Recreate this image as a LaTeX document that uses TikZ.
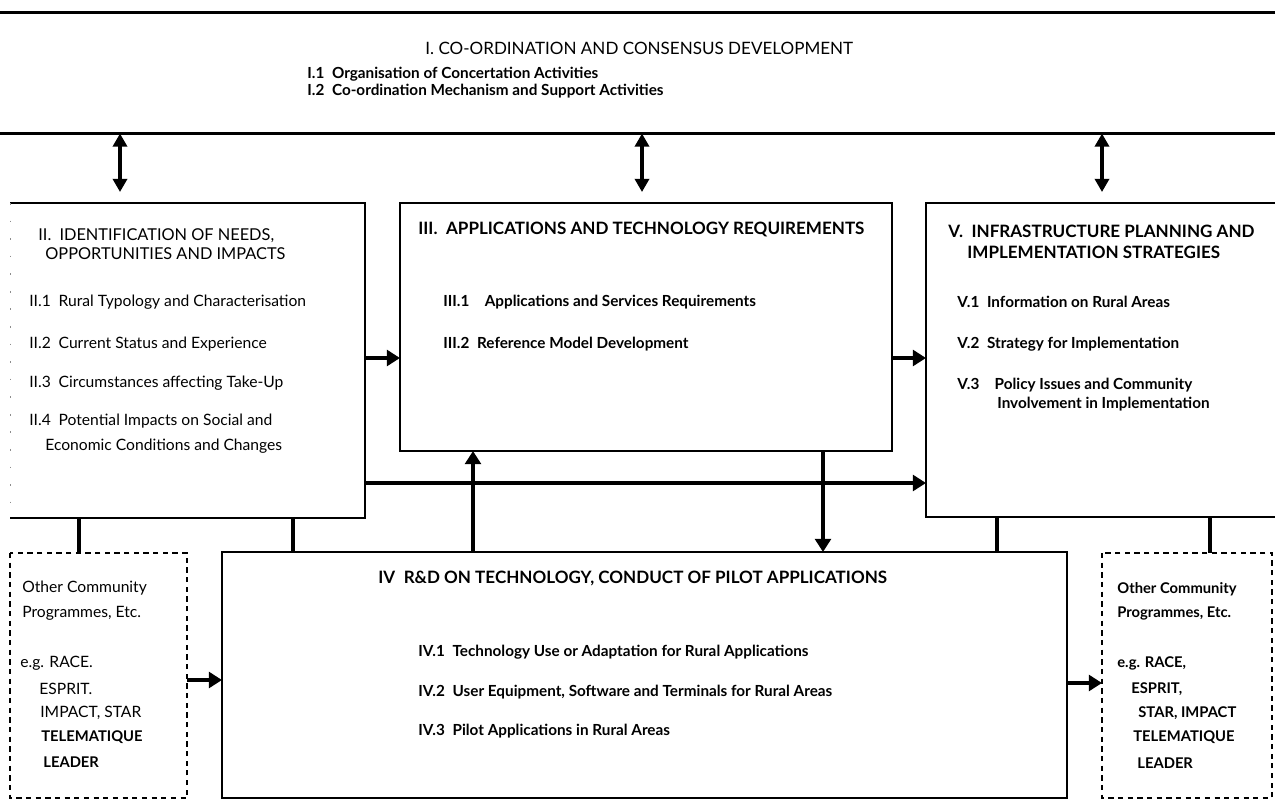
\documentclass[tikz,border=0pt]{standalone}
\usepackage{fontspec}
\setmainfont{Lato}
\usepackage{tikz}
\usetikzlibrary{positioning}
\usetikzlibrary{arrows.meta}
\tikzstyle{plan} = [x = 0.02cm, y = -0.02cm]
\tikzstyle{boxArea} = [inner sep = 0pt, outer sep = 0pt]
\tikzstyle{boxLine} = [color=black, line width = 1.2pt]
\tikzstyle{dashLine} = [color=black, line width = 1pt, dash pattern = on 3pt off 2.5pt]
\tikzstyle{faintSide} = [color=black!45, line width = 0.5pt, dash pattern = on 1pt off 9pt]
\tikzstyle{flowArrow} = [line width = 2.7pt, -{Triangle[length = 7.5pt, width = 9pt]}]
\tikzstyle{twoWay} = [line width = 2.4pt, {Triangle[length = 7.5pt, width = 8pt]}-{Triangle[length = 7.5pt, width = 8pt]}]
\tikzstyle{linkLine} = [line width = 1.8pt]
\tikzstyle{headText} = [anchor = west, inner sep = 0pt, font = \fontsize{9.7}{11}\selectfont]
\tikzstyle{headSmall} = [headText, font = \fontsize{9.3}{10}\selectfont]
\tikzstyle{headBold} = [headText, font = \bfseries\fontsize{9.7}{11}\selectfont]
\tikzstyle{itemText} = [anchor = west, inner sep = 0pt, font = \fontsize{8.9}{10}\selectfont]
\tikzstyle{itemBold} = [itemText, font = \bfseries\fontsize{8.7}{10}\selectfont]
\tikzstyle{sideBold} = [itemText, font = \bfseries\fontsize{8.4}{10}\selectfont]
\newcommand{\boxNode}[5]{\node [boxArea, minimum width = #4 * 0.02cm, minimum height = #5 * 0.02cm] (#1) at (#2, #3) {};}
\newcommand{\planText}[5]{\node [#5] (#1) at (#2, #3) {#4};}

\begin{document}
\begin{tikzpicture}[plan]
  \useasboundingbox (0,0) rectangle (1275,801);
  \boxNode{band}{637.5}{73}{1275}{121}
  \boxNode{boxII}{187.5}{360.5}{355}{315}
  \boxNode{boxIII}{646}{327}{492}{248}
  \boxNode{boxV}{1108}{360}{364}{314}
  \boxNode{boxIV}{644.5}{675}{845}{246}
  \boxNode{otherLeft}{98.5}{675.5}{177}{245}
  \boxNode{otherRight}{1187}{675.5}{170}{245}

  \draw [boxLine] (band.north west) -- (band.north east);
  \draw [boxLine] (band.south west) -- (band.south east);
  \draw [boxLine] (boxII.north west) -- (boxII.north east) -- (boxII.south east) -- (boxII.south west);
  \draw [faintSide] (boxII.north west) -- (boxII.south west);
  \draw [boxLine] (boxIII.north west) rectangle (boxIII.south east);
  \draw [boxLine] (boxV.north east) -- (boxV.north west) -- (boxV.south west) -- (boxV.south east);
  \draw [boxLine] (boxIV.north west) rectangle (boxIV.south east);
  \draw [dashLine] (otherLeft.north west) rectangle (otherLeft.south east);
  \draw [dashLine] (otherRight.north west) rectangle (otherRight.south east);

  \planText{bandTitle}{425}{48}{I. CO-ORDINATION AND CONSENSUS DEVELOPMENT}{headText}
  \planText{bandOne}{307}{74}{I.1\enspace Organisation of Concertation Activities}{itemBold}
  \planText{bandTwo}{307}{91}{I.2\enspace Co-ordination Mechanism and Support Activities}{itemBold}

  \planText{needsTitle}{38}{236}{II.\enspace IDENTIFICATION OF NEEDS,}{headSmall}
  \planText{needsTitleTwo}{45}{254}{OPPORTUNITIES AND IMPACTS}{headSmall}
  \planText{needsOne}{29}{302}{II.1\enspace Rural Typology and Characterisation}{itemText}
  \planText{needsTwo}{29}{344}{II.2\enspace Current Status and Experience}{itemText}
  \planText{needsThree}{29}{383}{II.3\enspace Circumstances affecting Take-Up}{itemText}
  \planText{needsFour}{29}{421}{II.4\enspace Potential Impacts on Social and}{itemText}
  \planText{needsFourTwo}{45}{446}{Economic Conditions and Changes}{itemText}

  \planText{appsTitle}{418}{229}{III.\enspace APPLICATIONS AND TECHNOLOGY REQUIREMENTS}{headBold}
  \planText{appsOne}{443}{302}{III.1\enspace\enspace Applications and Services Requirements}{itemBold}
  \planText{appsTwo}{443}{344}{III.2\enspace Reference Model Development}{itemBold}

  \planText{infraTitle}{948}{231}{V.\enspace INFRASTRUCTURE PLANNING AND}{headBold}
  \planText{infraTitleTwo}{967}{252}{IMPLEMENTATION STRATEGIES}{headBold}
  \planText{infraOne}{957}{302}{V.1\enspace Information on Rural Areas}{itemBold}
  \planText{infraTwo}{957}{344}{V.2\enspace Strategy for Implementation}{itemBold}
  \planText{infraThree}{957}{385}{V.3\enspace\enspace Policy Issues and Community}{itemBold}
  \planText{infraThreeTwo}{997}{404}{Involvement in Implementation}{itemBold}

  \planText{pilotTitle}{378}{578}{IV\enspace R\&D ON TECHNOLOGY, CONDUCT OF PILOT APPLICATIONS}{headBold}
  \planText{pilotOne}{418}{652}{IV.1\enspace Technology Use or Adaptation for Rural Applications}{itemBold}
  \planText{pilotTwo}{418}{692}{IV.2\enspace User Equipment, Software and Terminals for Rural Areas}{itemBold}
  \planText{pilotThree}{418}{731}{IV.3\enspace Pilot Applications in Rural Areas}{itemBold}

  \planText{leftOne}{22}{588}{Other Community}{itemText}
  \planText{leftTwo}{22}{613}{Programmes, Etc.}{itemText}
  \planText{leftThree}{20}{663}{e.g. RACE.}{itemText}
  \planText{leftFour}{39}{689}{ESPRIT.}{itemText}
  \planText{leftFive}{40}{713}{IMPACT, STAR}{itemText}
  \planText{leftSix}{41}{737}{TELEMATIQUE}{sideBold}
  \planText{leftSeven}{43}{762}{LEADER}{sideBold}

  \planText{rightOne}{1117}{589}{Other Community}{sideBold}
  \planText{rightTwo}{1117}{613}{Programmes, Etc.}{sideBold}
  \planText{rightThree}{1117}{663}{e.g. RACE,}{sideBold}
  \planText{rightFour}{1131}{689}{ESPRIT,}{sideBold}
  \planText{rightFive}{1138}{713}{STAR, IMPACT}{sideBold}
  \planText{rightSix}{1133}{737}{TELEMATIQUE}{sideBold}
  \planText{rightSeven}{1137}{763}{LEADER}{sideBold}

  \draw [twoWay, shorten > = 0.22cm] (band.south -| 120,0) -- (boxII.north -| 120,0);
  \draw [twoWay, shorten > = 0.22cm] (band.south -| 642,0) -- (boxIII.north -| 642,0);
  \draw [twoWay, shorten > = 0.22cm] (band.south -| 1102,0) -- (boxV.north -| 1102,0);

  \draw [flowArrow] (boxII.east |- 0,358) -- (boxIII.west |- 0,358);
  \draw [flowArrow] (boxIII.east |- 0,358) -- (boxV.west |- 0,358);
  \draw [flowArrow] (boxII.east |- 0,483) -- (boxV.west |- 0,483);
  \draw [flowArrow] (boxIV.north -| 473,0) -- (boxIII.south -| 473,0);
  \draw [flowArrow] (boxIII.south -| 823,0) -- (boxIV.north -| 823,0);
  \draw [flowArrow] (otherLeft.east |- 0,680) -- (boxIV.west |- 0,680);
  \draw [flowArrow] (boxIV.east |- 0,683) -- (otherRight.west |- 0,683);

  \draw [linkLine] (boxII.south -| 79,0) -- (otherLeft.north -| 79,0);
  \draw [linkLine] (boxII.south -| 293,0) -- (boxIV.north -| 293,0);
  \draw [linkLine] (boxV.south -| 997,0) -- (boxIV.north -| 997,0);
  \draw [linkLine] (boxV.south -| 1210,0) -- (otherRight.north -| 1210,0);
\end{tikzpicture}
\end{document}
